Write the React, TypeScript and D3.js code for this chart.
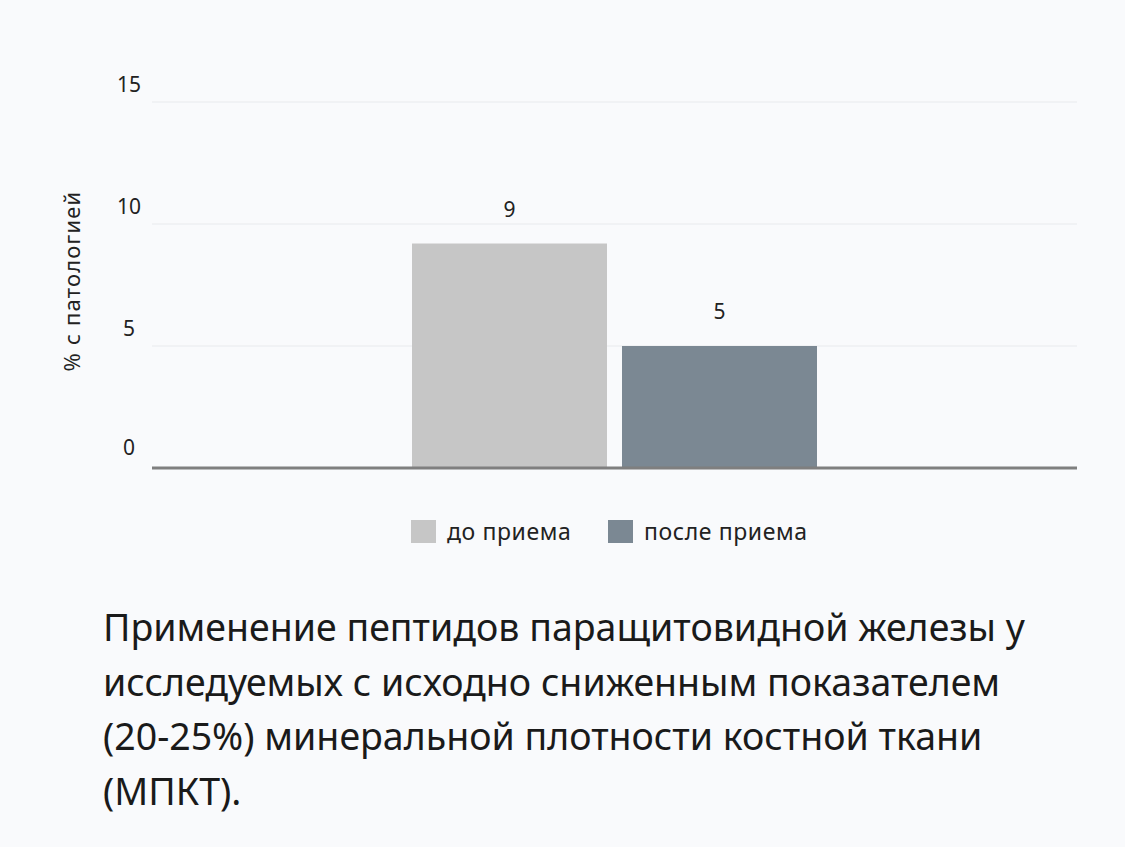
import * as d3 from 'd3'

const CATEGORIES = ['МПКТ']
const SERIES = ['до приема', 'после приема']
const VALUES = [9.2, 5]
const VALUE_LABELS = ['9', '5']
const COLORS = ['#c6c6c6', '#7b8893']
const Y_TICKS = [0, 5, 10, 15]
const AXIS_TITLE = '% с патологией'
const TITLE_LINES = [
  'Применение пептидов паращитовидной железы у',
  'исследуемых с исходно сниженным показателем',
  '(20-25%) минеральной плотности костной ткани',
  '(МПКТ).',
]

const WIDTH = 1125
const HEIGHT = 847
const PLOT = { left: 152, right: 1077, top: 102, bottom: 468 }
const FONT = '"Noto Sans", "Open Sans", sans-serif'

export default function App() {
  const y = d3.scaleLinear().domain([0, 15]).range([PLOT.bottom, PLOT.top])
  const x0 = d3
    .scaleBand<string>()
    .domain(CATEGORIES)
    .range([PLOT.left, PLOT.right])
    .paddingInner(0)
    .paddingOuter(0.642)
  const x1 = d3
    .scaleBand<string>()
    .domain(SERIES)
    .range([0, x0.bandwidth()])
    .paddingInner(0.0714)
    .paddingOuter(0)
  const groupX = x0(CATEGORIES[0]) ?? 0

  return (
    <svg
      width={WIDTH}
      height={HEIGHT}
      viewBox={`0 0 ${WIDTH} ${HEIGHT}`}
      style={{ position: 'absolute', left: 0, top: 0, fontFamily: FONT }}
    >
      <rect width={WIDTH} height={HEIGHT} fill="#f9fafc" />

      {Y_TICKS.map((tick) => (
        <g key={tick}>
          {tick !== 0 && (
            <line
              x1={PLOT.left}
              x2={PLOT.right}
              y1={y(tick)}
              y2={y(tick)}
              stroke="#e8eaed"
              strokeWidth={1}
            />
          )}
          <text
            x={129}
            y={y(tick) - (tick === 0 ? 13 : 10)}
            textAnchor="middle"
            fontSize={21}
            fill="#222"
          >
            {tick}
          </text>
        </g>
      ))}

      <text
        transform={`translate(80 ${(PLOT.top + PLOT.bottom) / 2 - 4}) rotate(-90)`}
        textAnchor="middle"
        fontSize={22}
        letterSpacing={1.2}
        fill="#222"
      >
        {AXIS_TITLE}
      </text>

      {SERIES.map((s, i) => {
        const bx = groupX + (x1(s) ?? 0)
        return (
          <g key={s}>
            <rect
              x={bx}
              y={y(VALUES[i])}
              width={x1.bandwidth()}
              height={y(0) - y(VALUES[i])}
              fill={COLORS[i]}
            />
            <text
              x={bx + x1.bandwidth() / 2}
              y={y(VALUES[i]) - 27}
              textAnchor="middle"
              fontSize={21}
              fill="#222"
            >
              {VALUE_LABELS[i]}
            </text>
          </g>
        )
      })}

      <line
        x1={PLOT.left}
        x2={PLOT.right}
        y1={PLOT.bottom}
        y2={PLOT.bottom}
        stroke="#7f7f7f"
        strokeWidth={3}
      />

      {SERIES.map((s, i) => {
        const lx = i === 0 ? 411 : 608
        return (
          <g key={s} transform={`translate(${lx} 520)`}>
            <rect width={25} height={23} fill={COLORS[i]} />
            <text x={36} y={20} fontSize={23} letterSpacing={0.6} fill="#222">
              {s}
            </text>
          </g>
        )
      })}

      <text x={103} fontSize={37.5} fill="#1a1a1a">
        {TITLE_LINES.map((line, i) => (
          <tspan key={i} x={103} y={641 + i * 54.5}>
            {line}
          </tspan>
        ))}
      </text>
    </svg>
  )
}
